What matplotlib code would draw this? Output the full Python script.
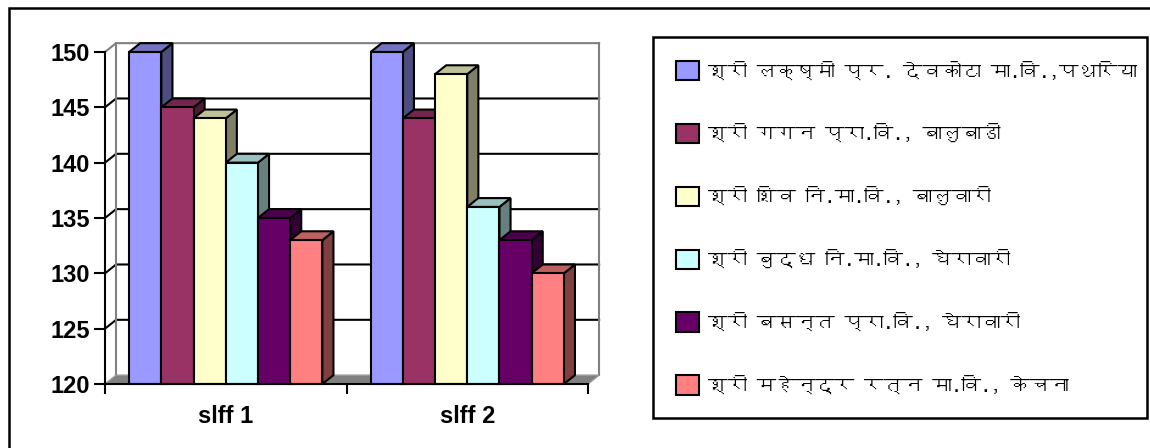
import matplotlib
matplotlib.use('Agg')
import matplotlib.pyplot as plt
from matplotlib.patches import Polygon, Rectangle, Patch
from matplotlib import font_manager
from matplotlib.ft2font import FT2Font
import numpy as np

# data
categories = ['slff 1', 'slff 2']
schools = ['श्री लक्ष्मी प्र. देवकोटा मा.वि.,पथरिया',
           'श्री गगन प्रा.वि., बालुबाडी',
           'श्री शिव नि.मा.वि., बालुवारी',
           'श्री बुद्ध नि.मा.वि., घेरावारी',
           'श्री बसन्त प्रा.वि., घेरावारी',
           'श्री महेन्द्र रत्न मा.वि., केचना']
laxmi = [150, 150]
gagan = [145, 144]
shiv = [144, 148]
buddha = [140, 136]
basanta = [135, 133]
mahendra = [133, 130]
colors = ['#9999FF', '#993366', '#FFFFCC', '#CCFFFF', '#660066', '#FF8080']
yticks = [120, 125, 130, 135, 140, 145, 150]

series = [laxmi, gagan, shiv, buddha, basanta, mahendra]


# find a font that has devanagari glyphs, if any
def find_font(ch):
    for f in font_manager.fontManager.ttflist:
        try:
            if FT2Font(f.fname).get_char_index(ord(ch)):
                return f.name
        except Exception:
            pass
    return None


deva = find_font('श')
legend_family = [deva, 'DejaVu Sans'] if deva else ['DejaVu Sans']

fig = plt.figure(figsize=(11.5, 4.48), dpi=100)
ax = fig.add_axes([105/1150, 1-384/448, 483/1150, 332/448])

ymin, ymax = 120, 150
ax.set_xlim(-0.5, 1.5)
ax.set_ylim(ymin, ymax)

dx, dy = 0.046, 0.8   # depth offset in data units
w = 0.8 / 6

# back wall + side wall
for y in yticks[1:]:
    c = '#808080' if y == ymax else 'black'
    ax.plot([-0.5, -0.5 + dx, 1.5 + dx], [y, y + dy, y + dy], color=c,
            lw=1.5, clip_on=False, zorder=1)
ax.plot([-0.5 + dx, -0.5 + dx], [ymin + dy, ymax + dy], color='#808080', lw=1.5, clip_on=False, zorder=1)
ax.plot([1.5 + dx, 1.5 + dx], [ymin + dy, ymax + dy], color='#808080', lw=1.5, clip_on=False, zorder=1)

# floor
floor = Polygon([(-0.5, ymin), (1.5, ymin), (1.5 + dx, ymin + dy), (-0.5 + dx, ymin + dy)],
                closed=True, fc='#808080', ec='#999999', lw=1, clip_on=False, zorder=1.5)
ax.add_patch(floor)

# 3d bars
xs = np.arange(len(categories))
for i, (vals, col) in enumerate(zip(series, colors)):
    rgb = np.array(matplotlib.colors.to_rgb(col))
    z = 3 + i * 0.1
    for x0, v in zip(xs + (i - 2.5) * w, vals):
        l, r = x0 - w / 2, x0 + w / 2
        side = Polygon([(r, ymin), (r, v), (r + dx, v + dy), (r + dx, ymin + dy)],
                       fc=rgb * 0.5, ec='black', lw=1.5, clip_on=False, zorder=z)
        top = Polygon([(l, v), (r, v), (r + dx, v + dy), (l + dx, v + dy)],
                      fc=rgb * 0.75, ec='black', lw=1.5, clip_on=False, zorder=z + 0.01)
        ax.add_patch(side)
        ax.add_patch(top)
    ax.bar(xs + (i - 2.5) * w, np.array(vals) - ymin, bottom=ymin, width=w,
           color=col, edgecolor='black', linewidth=1.5, clip_on=False, zorder=z + 0.02)

# axes
for s in ['top', 'right']:
    ax.spines[s].set_visible(False)
ax.spines['left'].set_linewidth(1.5)
ax.spines['bottom'].set_linewidth(1.5)
ax.spines['left'].set_zorder(5)
ax.spines['bottom'].set_zorder(5)
ax.set_yticks(yticks)
ax.set_yticklabels([str(t) for t in yticks], fontsize=17, fontweight='bold', family='Liberation Sans')
ax.tick_params(axis='y', length=8, width=1.5, pad=3)
ax.set_xticks(xs)
ax.set_xticklabels(categories, fontsize=17, fontweight='bold', family='Liberation Sans')
ax.tick_params(axis='x', length=0, pad=15)
ax.set_xticks([-0.5, 0.5, 1.5], minor=True)
ax.tick_params(axis='x', which='minor', length=7, width=1.5)
ax.patch.set_visible(False)

# legend
handles = [Patch(fc=c, ec='black', lw=1.5) for c in colors]
fig.legend(handles, schools, loc='upper left',
           bbox_to_anchor=(653/1150, 0.058, 494/1150, 1 - 37/448 - 0.058), mode='expand',
           frameon=True, fancybox=False, edgecolor='black', framealpha=1,
           handlelength=1.15, handleheight=1.15, handletextpad=0.5, labelspacing=2.2,
           borderpad=1.2, borderaxespad=0, prop={'family': legend_family, 'size': 14})
fig.legends[0].get_frame().set_linewidth(1.8)

# outer frame
fig.add_artist(Rectangle((9/1150, -0.1), 1.2, 1.1 - 8/448, transform=fig.transFigure,
                         fill=False, ec='black', lw=1.8))

fig.savefig('out.png', dpi=100)
